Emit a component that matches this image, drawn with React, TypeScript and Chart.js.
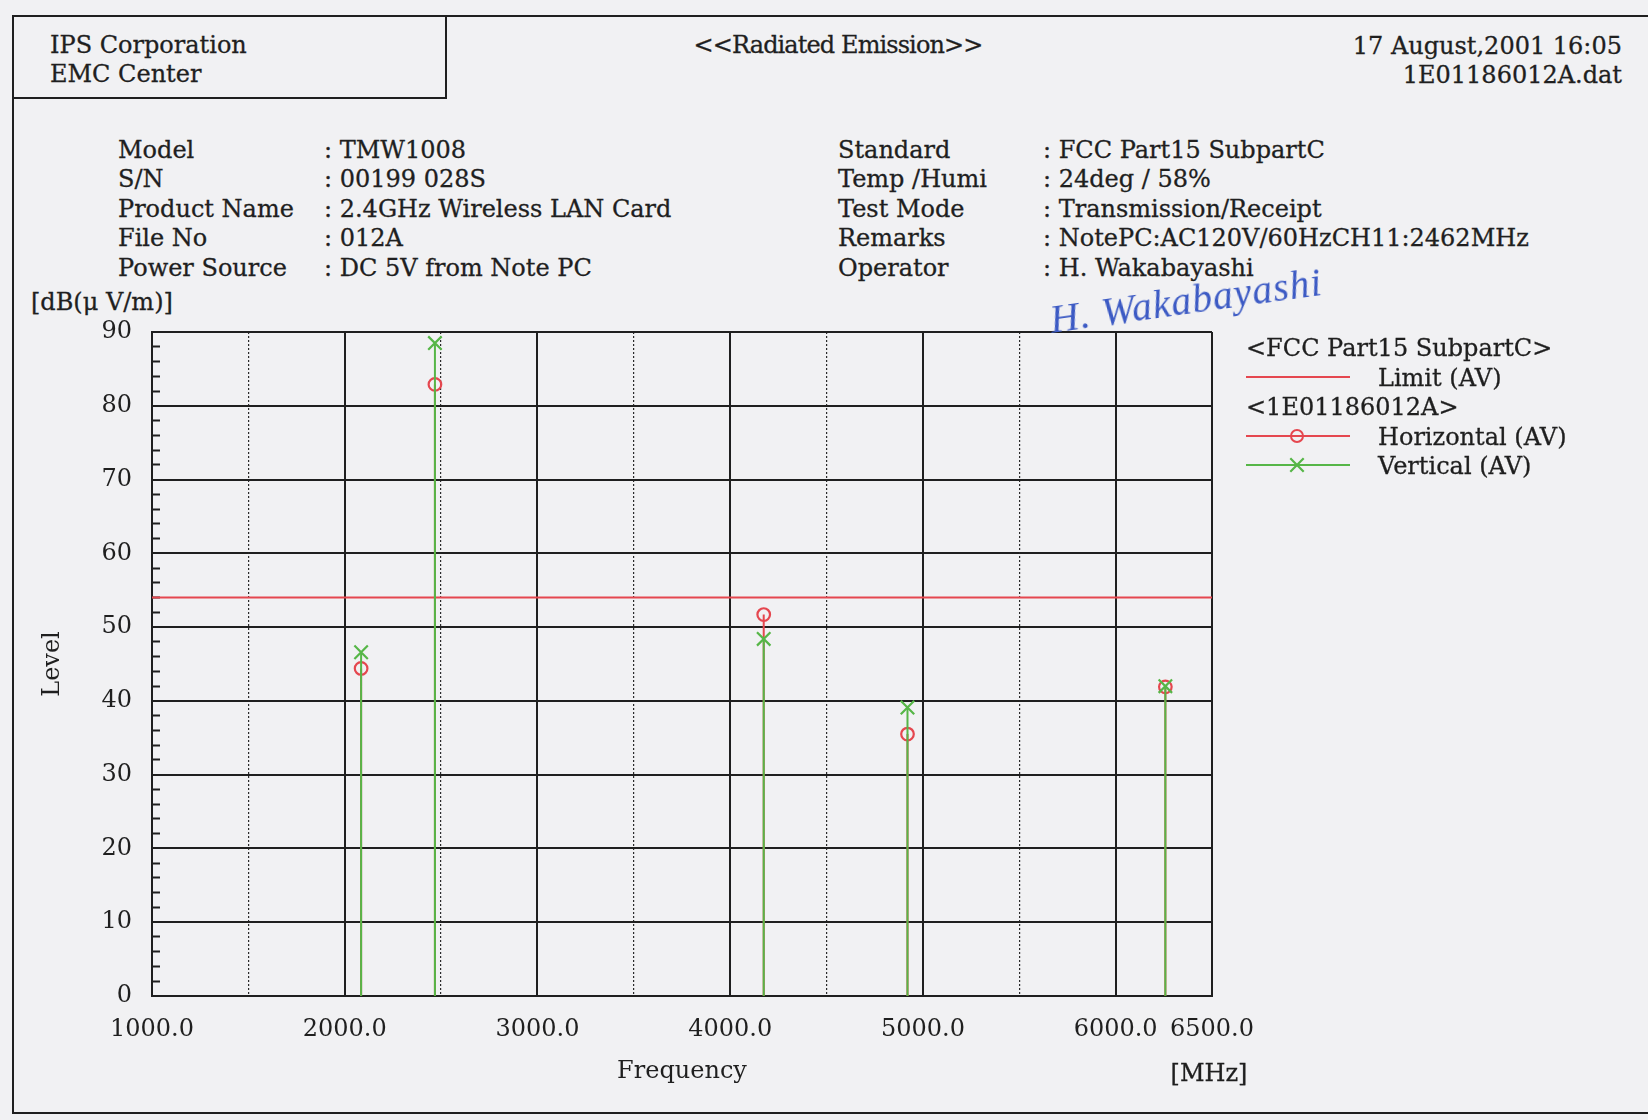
import React, { useEffect, useRef } from "react";
import { Chart, registerables } from "chart.js";

Chart.register(...registerables);

// ---------- data ----------
const frequencies = [2085, 2468, 4174, 4920, 6258];
const horizontalAV = [44.4, 82.9, 51.7, 35.5, 41.9];
const verticalAV = [46.6, 88.5, 48.4, 39.1, 42.0];
const limitFreqs = [1000, 6500];
const limitAV = [54, 54];
const xMajorTicks = [1000, 2000, 3000, 4000, 5000, 6000, 6500];
const xHalfTicks = [1500, 2500, 3500, 4500, 5500];
const yTicks = [0, 10, 20, 30, 40, 50, 60, 70, 80, 90];
const yMinorTicks = [
  2, 4, 6, 8, 12, 14, 16, 18, 22, 24, 26, 28, 32, 34, 36, 38, 42, 44, 46, 48,
  52, 54, 56, 58, 62, 64, 66, 68, 72, 74, 76, 78, 82, 84, 86, 88,
];

const infoLeft = [
  ["Model", ": TMW1008"],
  ["S/N", ": 00199 028S"],
  ["Product Name", ": 2.4GHz Wireless LAN Card"],
  ["File No", ": 012A"],
  ["Power Source", ": DC 5V from Note PC"],
];
const infoRight = [
  ["Standard", ": FCC Part15 SubpartC"],
  ["Temp /Humi", ": 24deg / 58%"],
  ["Test Mode", ": Transmission/Receipt"],
  ["Remarks", ": NotePC:AC120V/60HzCH11:2462MHz"],
  ["Operator", ": H. Wakabayashi"],
];
const infoRowY = [149.5, 179, 208.5, 238, 267.5];

// ---------- style ----------
const FONT = '"DejaVu Serif", serif';
const INK = "#1f1f1f";
const RED = "#e5474f";
const GREEN = "#56b647";
const PAPER = "#f1f1f3";

type P = { x: number; y: number | null; top: boolean };
const stems = (vals: number[]): P[] =>
  frequencies.flatMap((f, i) => [
    { x: f, y: 0, top: false },
    { x: f, y: vals[i], top: true },
    { x: f, y: null, top: false },
  ]);

function T(props: {
  x: number;
  y: number;
  a?: "left" | "right" | "center";
  size?: number;
  ls?: string;
  children: React.ReactNode;
}) {
  const { x, y, a = "left", size = 24, ls, children } = props;
  const style: React.CSSProperties = {
    position: "absolute",
    top: y,
    whiteSpace: "nowrap",
    lineHeight: "1",
    fontFamily: FONT,
    fontSize: size,
    color: INK,
    WebkitTextStroke: "0.3px " + INK,
  };
  if (ls) style.letterSpacing = ls;
  if (a === "left") {
    style.left = x;
    style.transform = "translateY(-50%)";
  } else if (a === "right") {
    style.right = 1648 - x;
    style.transform = "translateY(-50%)";
  } else {
    style.left = x;
    style.transform = "translate(-50%,-50%)";
  }
  return <div style={style}>{children}</div>;
}

function Line(props: { x: number; y: number; w: number; h: number; c?: string }) {
  return (
    <div
      style={{
        position: "absolute",
        left: props.x,
        top: props.y,
        width: props.w,
        height: props.h,
        background: props.c || INK,
      }}
    />
  );
}

export default function App() {
  const ref = useRef<HTMLCanvasElement | null>(null);

  useEffect(() => {
    document.body.style.margin = "0";
    document.body.style.overflow = "hidden";
    const canvas = ref.current;
    if (!canvas) return;
    const tickFont = { family: FONT, size: 24 };
    const chart = new Chart(canvas, {
      type: "line",
      data: {
        datasets: [
          {
            label: "Vertical (AV)",
            data: stems(verticalAV) as any,
            borderColor: GREEN,
            borderWidth: 2,
            tension: 0,
            spanGaps: false,
            pointStyle: "crossRot",
            pointRadius: (ctx: any) => (ctx.raw && ctx.raw.top ? 9.5 : 0),
            pointBorderColor: GREEN,
            pointBorderWidth: 2.2,
            pointBackgroundColor: "rgba(0,0,0,0)",
            order: 0,
          } as any,
          {
            label: "Horizontal (AV)",
            data: stems(horizontalAV) as any,
            borderColor: RED,
            borderWidth: 2,
            tension: 0,
            spanGaps: false,
            pointStyle: "circle",
            pointRadius: (ctx: any) => (ctx.raw && ctx.raw.top ? 6.3 : 0),
            pointBorderColor: RED,
            pointBorderWidth: 2.2,
            pointBackgroundColor: "rgba(0,0,0,0)",
            order: 1,
          } as any,
          {
            label: "Limit (AV)",
            data: limitFreqs.map((f, i) => ({ x: f, y: limitAV[i] })),
            borderColor: RED,
            borderWidth: 2,
            pointRadius: 0,
            tension: 0,
            order: 2,
          },
        ],
      },
      options: {
        responsive: false,
        maintainAspectRatio: false,
        animation: false,
        devicePixelRatio: 1,
        layout: { padding: { left: 32, top: 332, right: 436, bottom: 30 } },
        plugins: {
          legend: { display: false },
          tooltip: { enabled: false },
        },
        events: [],
        scales: {
          x: {
            type: "linear",
            position: "bottom",
            min: 1000,
            max: 6500,
            afterBuildTicks: (s: any) => {
              s.ticks = xMajorTicks.map((v) => ({ value: v }));
            },
            afterFit: (s: any) => {
              s.height = 94;
            },
            ticks: {
              autoSkip: false,
              maxRotation: 0,
              minRotation: 0,
              padding: 19,
              color: INK,
              font: tickFont,
              callback: (v: any) => Number(v).toFixed(1),
            },
            grid: { color: INK, lineWidth: 2, drawTicks: false },
            border: { display: true, color: INK, width: 2 },
            title: {
              display: true,
              text: "Frequency",
              color: INK,
              font: { family: FONT, size: 24 },
              padding: { top: 0, bottom: 4 },
            },
          },
          xHalf: {
            type: "linear",
            position: "top",
            min: 1000,
            max: 6500,
            afterBuildTicks: (s: any) => {
              s.ticks = xHalfTicks.map((v) => ({ value: v }));
            },
            afterFit: (s: any) => {
              s.height = 0;
            },
            ticks: { display: false },
            grid: { color: "#2a2a2a", lineWidth: 1.2, drawTicks: false },
            border: { display: false, dash: [2, 2] },
          },
          y: {
            type: "linear",
            position: "left",
            weight: 1,
            min: 0,
            max: 90,
            afterBuildTicks: (s: any) => {
              s.ticks = yTicks.map((v) => ({ value: v }));
            },
            afterFit: (s: any) => {
              s.width = 120;
            },
            ticks: {
              padding: 20,
              color: INK,
              font: tickFont,
              callback: (v: any) => String(v),
            },
            grid: { color: INK, lineWidth: 2, drawTicks: false },
            border: { display: true, color: INK, width: 2 },
            title: {
              display: true,
              text: "Level",
              color: INK,
              font: { family: FONT, size: 24 },
              padding: { top: 6, bottom: 4 },
            },
          },
          yMinor: {
            type: "linear",
            position: "left",
            weight: 0,
            min: 0,
            max: 90,
            afterBuildTicks: (s: any) => {
              s.ticks = yMinorTicks.map((v) => ({ value: v }));
            },
            afterFit: (s: any) => {
              s.width = 0;
            },
            ticks: { display: false },
            grid: {
              drawOnChartArea: false,
              drawTicks: true,
              tickLength: -8,
              tickWidth: 2,
              tickColor: INK,
            },
            border: { display: false },
          },
        } as any,
      },
    });
    return () => chart.destroy();
  }, []);

  return (
    <div
      style={{
        position: "absolute",
        left: 0,
        top: 0,
        width: 1648,
        height: 1120,
        background: PAPER,
        overflow: "hidden",
      }}
    >
      {/* frame */}
      <Line x={12} y={15} w={1636} h={2} />
      <Line x={12} y={15} w={2} h={1099} />
      <Line x={12} y={1112} w={1636} h={2} />
      <Line x={445} y={15} w={2} h={84} />
      <Line x={12} y={97} w={435} h={2} />

      {/* header */}
      <T x={50} y={45}>IPS Corporation</T>
      <T x={50} y={74}>EMC Center</T>
      <T x={838} y={45} a="center" ls="-0.9px">{"<<Radiated Emission>>"}</T>
      <T x={1622} y={46} a="right">17 August,2001 16:05</T>
      <T x={1622} y={75} a="right">1E01186012A.dat</T>

      {infoLeft.map((r, i) => (
        <React.Fragment key={"l" + i}>
          <T x={118} y={infoRowY[i]}>{r[0]}</T>
          <T x={324} y={infoRowY[i]}>{r[1]}</T>
        </React.Fragment>
      ))}
      {infoRight.map((r, i) => (
        <React.Fragment key={"r" + i}>
          <T x={838} y={infoRowY[i]}>{r[0]}</T>
          <T x={1043} y={infoRowY[i]}>{r[1]}</T>
        </React.Fragment>
      ))}

      <T x={31} y={302}>[dB(μ V/m)]</T>

      <canvas
        ref={ref}
        width={1648}
        height={1120}
        style={{ position: "absolute", left: 0, top: 0, width: 1648, height: 1120 }}
      />

      <T x={1209} y={1073} a="center">[MHz]</T>

      {/* legend */}
      <T x={1246} y={348}>{"<FCC Part15 SubpartC>"}</T>
      <Line x={1246} y={376} w={104} h={2} c={RED} />
      <T x={1378} y={378}>Limit (AV)</T>
      <T x={1246} y={407}>{"<1E01186012A>"}</T>
      <Line x={1246} y={435} w={104} h={2} c={RED} />
      <svg
        width={20}
        height={20}
        style={{ position: "absolute", left: 1287, top: 426 }}
      >
        <circle cx={10} cy={10} r={6} fill="none" stroke={RED} strokeWidth={2} />
      </svg>
      <T x={1378} y={437}>Horizontal (AV)</T>
      <Line x={1246} y={464} w={104} h={2} c={GREEN} />
      <svg
        width={20}
        height={20}
        style={{ position: "absolute", left: 1287, top: 455 }}
      >
        <path d="M3.3 3.3 L16.7 16.7 M16.7 3.3 L3.3 16.7" stroke={GREEN} strokeWidth={2.2} />
      </svg>
      <T x={1378} y={466}>Vertical (AV)</T>

      {/* signature */}
      <div
        style={{
          position: "absolute",
          left: 1050,
          top: 296,
          fontFamily: '"Liberation Serif", serif',
          fontStyle: "italic",
          fontSize: 40,
          color: "#3c5ac4",
          transform: "rotate(-8deg)",
          transformOrigin: "left center",
          whiteSpace: "nowrap",
          letterSpacing: "1px",
        }}
      >
        H. Wakabayashi
      </div>
    </div>
  );
}
